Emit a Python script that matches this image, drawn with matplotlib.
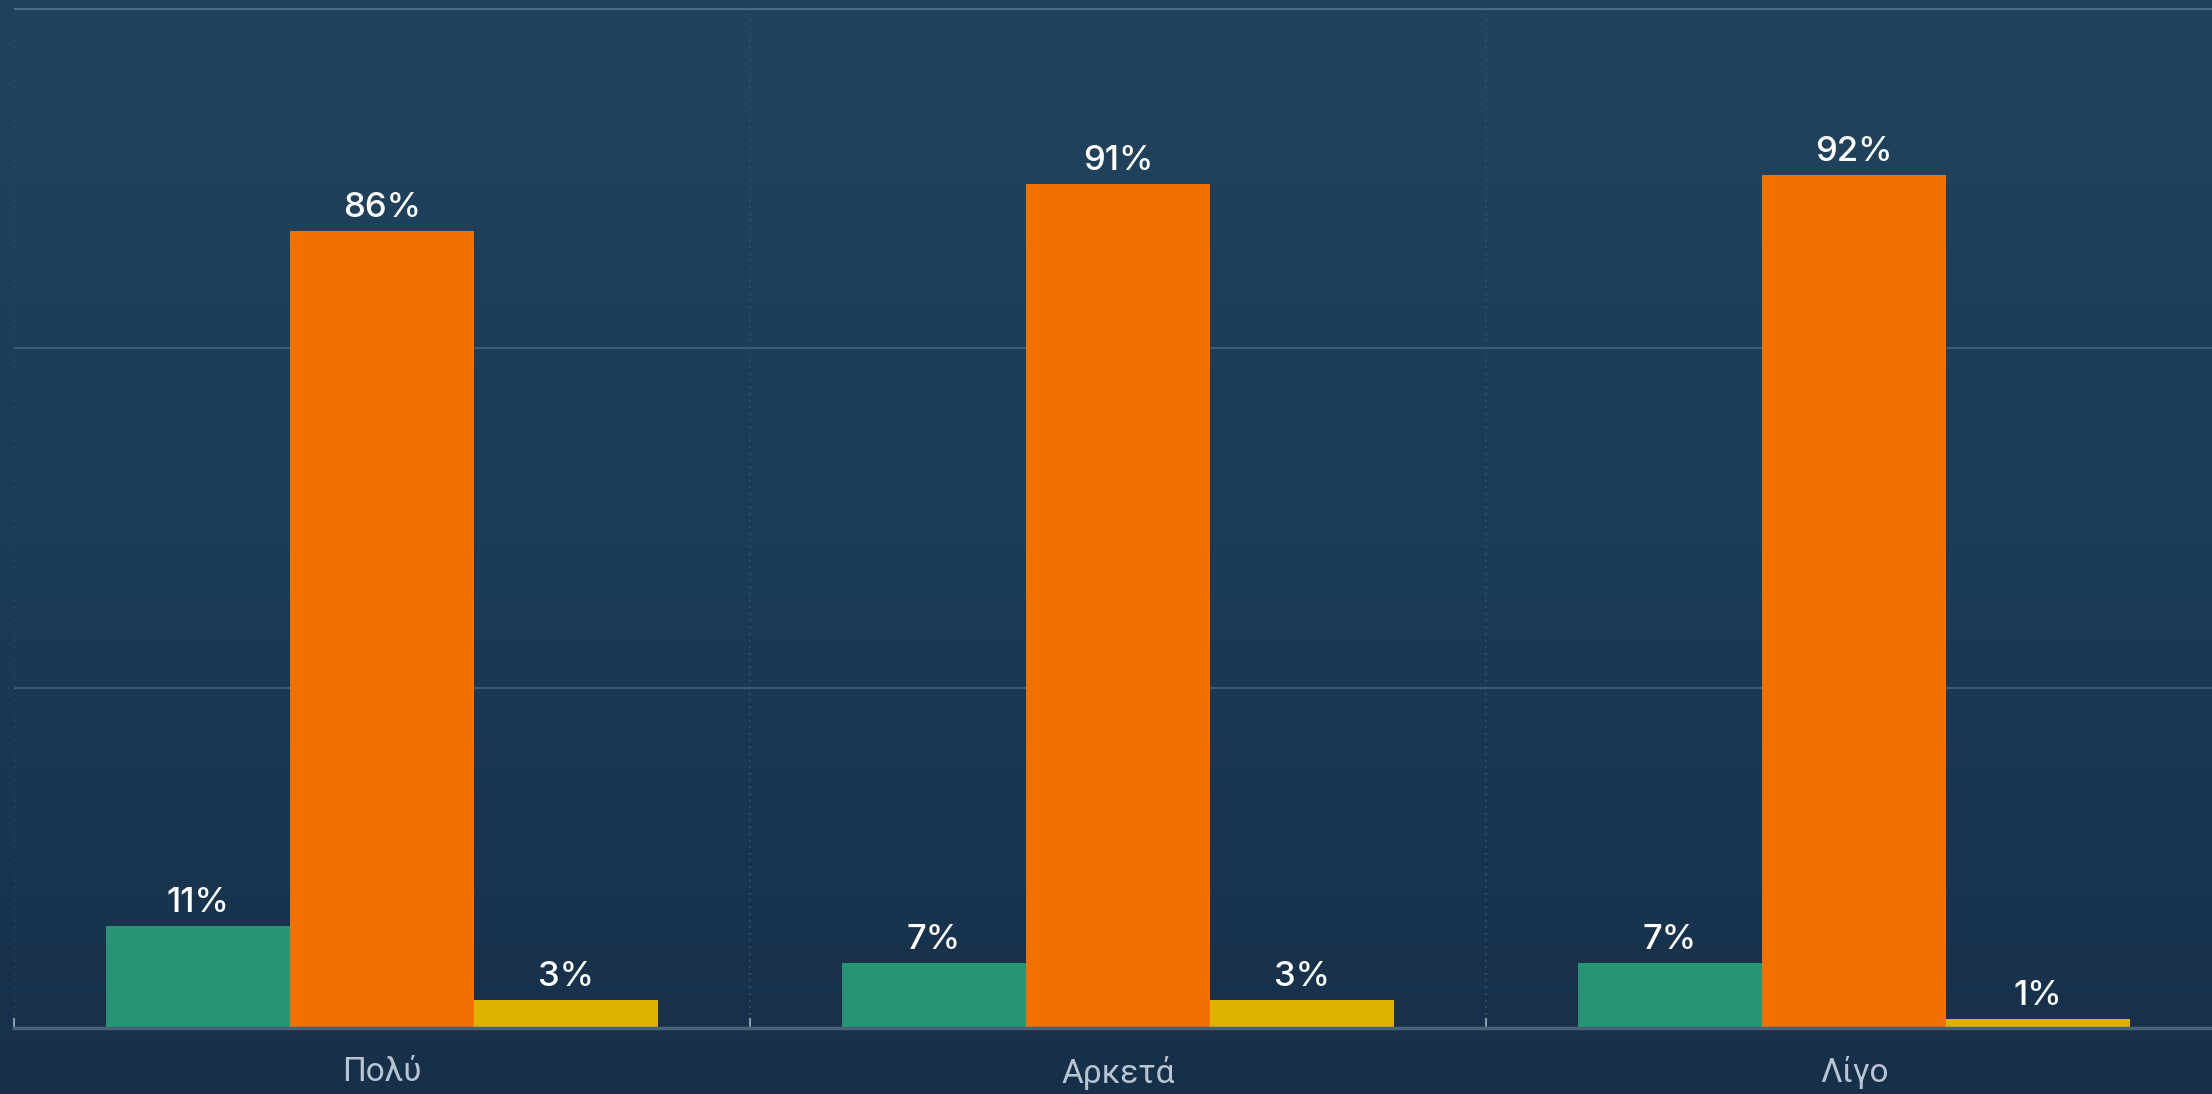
import matplotlib.pyplot as plt
import numpy as np
from matplotlib.colors import LinearSegmentedColormap

categories = ['Πολύ', 'Αρκετά', 'Λίγο']
green_vals = [11, 7, 7]
orange_vals = [86, 91, 92]
yellow_vals = [3, 3, 1]

W, H = 2212, 1094
fig = plt.figure(figsize=(W / 100, H / 100), dpi=100)

# background gradient
bg = fig.add_axes([0, 0, 1, 1], zorder=-1)
cmap = LinearSegmentedColormap.from_list('bg', ['#21445e', '#1c3b55', '#17304a'])
grad = np.linspace(0, 1, 256).reshape(-1, 1)
bg.imshow(grad, aspect='auto', cmap=cmap, extent=[0, 1, 0, 1], origin='upper')
bg.axis('off')

left, right = 14 / W, 2222 / W
top, bottom = 1 - 8 / H, 1 - 1028 / H
ax = fig.add_axes([left, bottom, right - left, top - bottom])
ax.set_facecolor('none')

x = np.arange(len(categories))
w = 0.25
series = [(green_vals, '#279474', -w), (orange_vals, '#f07000', 0), (yellow_vals, '#dcb400', w)]
for vals, color, off in series:
    bars = ax.bar(x + off, vals, width=w, color=color, zorder=3, linewidth=0)
    for b, v in zip(bars, vals):
        ax.annotate(f'{v}%', (b.get_x() + b.get_width() / 2, v), xytext=(0, 10),
                    textcoords='offset points', ha='center', va='baseline',
                    color='white', fontsize=25, fontweight='medium',
                    family=['Inter', 'DejaVu Sans'], zorder=4)

ymax = 110
ax.set_ylim(0, ymax)
ax.set_xlim(-0.5, 2.5)
for gy in [ymax / 3, 2 * ymax / 3]:
    ax.axhline(gy, color='#3b5a75', lw=1.5, zorder=1)
ax.axhline(ymax, color='#4a6a85', lw=3, zorder=1)

for sx in [-0.5, 0.5, 1.5]:
    ax.axvline(sx, color='#35536d', lw=1.2, ls=(0, (1, 3)), zorder=1)

ax.set_yticks([])
ax.set_xticks([-0.5, 0.5, 1.5], minor=True)
ax.tick_params(axis='x', which='minor', direction='in', length=7, width=1.5, color='#8a9aa8')
ax.set_xticks(x)
ax.set_xticklabels(categories, color='#b8c4d0', fontsize=24,
                   family=['Roboto', 'DejaVu Sans'])
ax.tick_params(axis='x', which='major', length=0, pad=20)

for s in ['top', 'right', 'left']:
    ax.spines[s].set_visible(False)
ax.spines['bottom'].set_color('#4a6278')
ax.spines['bottom'].set_linewidth(2.5)
ax.spines['bottom'].set_zorder(5)

fig.savefig('out.png', dpi=100)
